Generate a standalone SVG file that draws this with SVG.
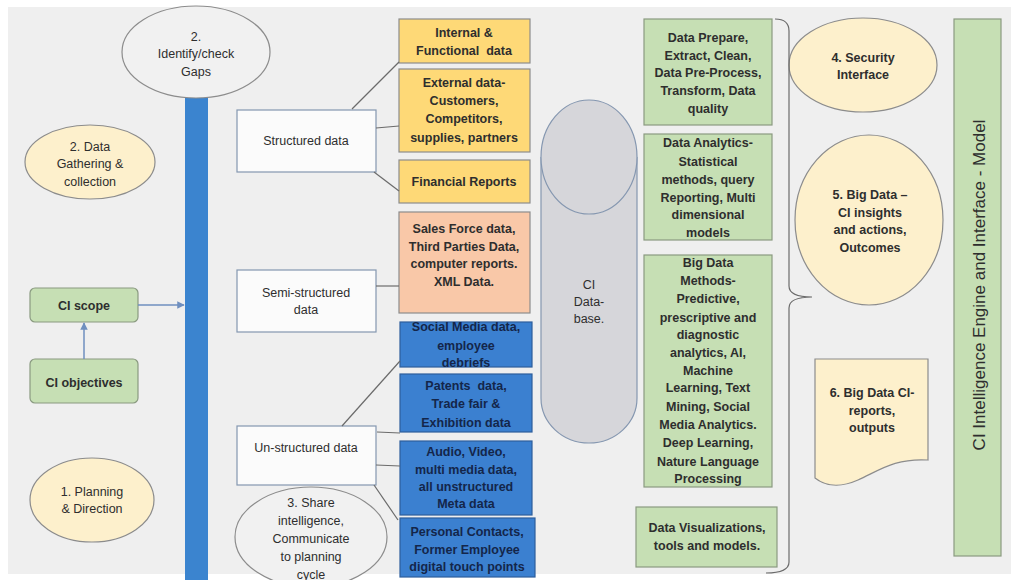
<svg xmlns="http://www.w3.org/2000/svg" width="1021" height="580" viewBox="0 0 1021 580">
<defs>
<style>
text{font-family:"Liberation Sans",Arial,sans-serif;fill:#2e2e2e;text-anchor:middle;white-space:pre}
.b{font-weight:bold;font-size:12.5px}
.n{font-size:12.5px}
.nv{fill:#14264a}
.ell{stroke:#8c8c8c;stroke-width:1.2}
.cream{fill:#fdf0cc}
.plain{fill:#f1f1f1}
.yel{fill:#fed977;stroke:#8c8c8c;stroke-width:1.2}
.peach{fill:#f9c8a8;stroke:#8c8c8c;stroke-width:1.2}
.blue{fill:#3b80d0;stroke:#2d5e9c;stroke-width:1.2}
.grn{fill:#c6dfb4;stroke:#8a9a80;stroke-width:1.2}
.wbox{fill:#fbfbfb;stroke:#8497b0;stroke-width:1.2}
.ln{stroke:#6b6b6b;stroke-width:1.2;fill:none}
.ar{stroke:#6f8fbf;stroke-width:1.5;fill:none}
</style>
<marker id="ah" viewBox="0 0 10 10" refX="9" refY="5" markerWidth="5" markerHeight="5" orient="auto">
<path d="M0,0 L10,5 L0,10 z" fill="#6f8fbf"/>
</marker>
</defs>
<rect x="0" y="0" width="1021" height="580" fill="#ffffff"/>
<rect x="8" y="7" width="1003" height="567" fill="#efefef"/>

<g id="bar">
<rect x="185" y="96" width="23" height="484" fill="#3b84cf"/>
</g>

<g id="identify">
<ellipse class="ell plain" cx="196" cy="52" rx="74" ry="46"/>
<text class="n" x="196" y="41">2.</text>
<text class="n" x="196" y="58">Identify/check</text>
<text class="n" x="196" y="76">Gaps</text>
</g>

<g id="gathering">
<ellipse class="ell cream" cx="90" cy="162" rx="65" ry="37"/>
<text class="n" x="90" y="151">2. Data</text>
<text class="n" x="90" y="168">Gathering &amp;</text>
<text class="n" x="90" y="186">collection</text>
</g>

<g id="ciscope">
<rect class="grn" x="30" y="288" width="108" height="34" rx="5"/>
<text class="b" x="84" y="310">CI scope</text>
</g>

<g id="ciobjectives">
<rect class="grn" x="30" y="359" width="108" height="44" rx="5"/>
<text class="b" x="84" y="387">CI objectives</text>
</g>

<g id="planning">
<ellipse class="ell cream" cx="92" cy="500" rx="62" ry="42"/>
<text class="n" x="92" y="496">1. Planning</text>
<text class="n" x="92" y="513">&amp; Direction</text>
</g>

<g id="structured">
<rect class="wbox" x="237" y="110" width="139" height="62"/>
<text class="n" x="306" y="145">Structured data</text>
</g>

<g id="semistructured">
<rect class="wbox" x="237" y="270" width="139" height="62"/>
<text class="n" x="306" y="297">Semi-structured</text>
<text class="n" x="306" y="314">data</text>
</g>

<g id="unstructured">
<rect class="wbox" x="237" y="426" width="139" height="59"/>
<text class="n" x="306" y="452">Un-structured data</text>
</g>

<g id="share">
<ellipse class="ell plain" cx="311" cy="537" rx="76" ry="50"/>
<text class="n" x="311" y="507">3. Share</text>
<text class="n" x="311" y="525">intelligence,</text>
<text class="n" x="311" y="543">Communicate</text>
<text class="n" x="311" y="561">to planning</text>
<text class="n" x="311" y="579">cycle</text>
</g>

<g id="internal">
<rect class="yel" x="399" y="19" width="131" height="44"/>
<text class="b" x="464" y="37">Internal &amp;</text>
<text class="b" x="464" y="55">Functional  data</text>
</g>

<g id="external">
<rect class="yel" x="399" y="69" width="131" height="83"/>
<text class="b" x="464" y="87">External data-</text>
<text class="b" x="464" y="105">Customers,</text>
<text class="b" x="464" y="123">Competitors,</text>
<text class="b" x="464" y="142">supplies, partners</text>
</g>

<g id="financial">
<rect class="yel" x="399" y="160" width="131" height="43"/>
<text class="b" x="464" y="186">Financial Reports</text>
</g>

<g id="salesforce">
<rect class="peach" x="399" y="212" width="131" height="101"/>
<text class="b" x="464" y="233">Sales Force data,</text>
<text class="b" x="464" y="251">Third Parties Data,</text>
<text class="b" x="464" y="268">computer reports.</text>
<text class="b" x="464" y="286">XML Data.</text>
</g>

<g id="social">
<rect class="blue" x="400" y="322" width="132" height="45"/>
<text class="b nv" x="466" y="331">Social Media data,</text>
<text class="b nv" x="466" y="350">employee</text>
<text class="b nv" x="466" y="367">debriefs</text>
</g>

<g id="patents">
<rect class="blue" x="400" y="374" width="132" height="58"/>
<text class="b nv" x="466" y="390">Patents  data,</text>
<text class="b nv" x="466" y="408">Trade fair &amp;</text>
<text class="b nv" x="466" y="427">Exhibition data</text>
</g>

<g id="audio">
<rect class="blue" x="400" y="441" width="132" height="74"/>
<text class="b nv" x="466" y="456">Audio, Video,</text>
<text class="b nv" x="466" y="474">multi media data,</text>
<text class="b nv" x="466" y="491">all unstructured</text>
<text class="b nv" x="466" y="508">Meta data</text>
</g>

<g id="personal">
<rect class="blue" x="400" y="518" width="135" height="59"/>
<text class="b nv" x="467" y="536">Personal Contacts,</text>
<text class="b nv" x="467" y="554">Former Employee</text>
<text class="b nv" x="467" y="571">digital touch points</text>
</g>

<g id="database">
<path d="M541,157 L541,398 A48,45 0 0 0 637,398 L637,157" fill="#d6d6da" stroke="#8597b0" stroke-width="1.2"/>
<ellipse cx="589" cy="157" rx="48" ry="57" fill="#d6d6da" stroke="#8597b0" stroke-width="1.2"/>
<text class="n" x="589" y="289">CI</text>
<text class="n" x="589" y="306">Data-</text>
<text class="n" x="589" y="323">base.</text>
</g>

<g id="prepare">
<rect class="grn" x="644" y="19" width="128" height="106"/>
<text class="b" x="708" y="42">Data Prepare,</text>
<text class="b" x="708" y="60">Extract, Clean,</text>
<text class="b" x="708" y="77">Data Pre-Process,</text>
<text class="b" x="708" y="95">Transform, Data</text>
<text class="b" x="708" y="113">quality</text>
</g>

<g id="analytics">
<rect class="grn" x="644" y="134" width="128" height="106"/>
<text class="b" x="708" y="147">Data Analytics-</text>
<text class="b" x="708" y="166">Statistical</text>
<text class="b" x="708" y="184">methods, query</text>
<text class="b" x="708" y="202">Reporting, Multi</text>
<text class="b" x="708" y="219">dimensional</text>
<text class="b" x="708" y="237">models</text>
</g>

<g id="bigdata">
<rect class="grn" x="644" y="255" width="128" height="232"/>
<text class="b" x="708" y="267">Big Data</text>
<text class="b" x="708" y="285">Methods-</text>
<text class="b" x="708" y="303">Predictive,</text>
<text class="b" x="708" y="322">prescriptive and</text>
<text class="b" x="708" y="339">diagnostic</text>
<text class="b" x="708" y="357">analytics, AI,</text>
<text class="b" x="708" y="375">Machine</text>
<text class="b" x="708" y="392">Learning, Text</text>
<text class="b" x="708" y="411">Mining, Social</text>
<text class="b" x="708" y="429">Media Analytics.</text>
<text class="b" x="708" y="447">Deep Learning,</text>
<text class="b" x="708" y="466">Nature Language</text>
<text class="b" x="708" y="483">Processing</text>
</g>

<g id="visualizations">
<rect class="grn" x="636" y="507" width="141" height="60"/>
<text class="b" x="707" y="532">Data Visualizations,</text>
<text class="b" x="707" y="550">tools and models.</text>
</g>

<g id="security">
<ellipse class="ell cream" cx="863" cy="65" rx="74" ry="47"/>
<text class="b" x="863" y="62">4. Security</text>
<text class="b" x="863" y="79">Interface</text>
</g>

<g id="insights">
<ellipse class="ell cream" cx="869" cy="220" rx="74" ry="85"/>
<text class="b" x="870" y="199">5. Big Data –</text>
<text class="b" x="870" y="217">CI insights</text>
<text class="b" x="870" y="234">and actions,</text>
<text class="b" x="870" y="252">Outcomes</text>
</g>

<g id="reports">
<path d="M815,359 H928 V460 C895,458 880,470 858,480 C840,488 825,486 815,478 Z" fill="#fdf0cc" stroke="#8c8c8c" stroke-width="1.2"/>
<text class="b" x="872" y="397">6. Big Data CI-</text>
<text class="b" x="872" y="415">reports,</text>
<text class="b" x="872" y="432">outputs</text>
</g>

<g id="engine">
<rect class="grn" x="954" y="19" width="47" height="537"/>
<text x="0" y="0" font-size="17" transform="translate(985,285) rotate(-90)">CI Intelligence Engine and Interface - Model</text>
</g>

<g id="connectors">
<line class="ar" x1="138" y1="305" x2="184" y2="305" marker-end="url(#ah)"/>
<line class="ar" x1="84" y1="359" x2="84" y2="323" marker-end="url(#ah)"/>
<line class="ln" x1="352" y1="109" x2="399" y2="62"/>
<line class="ln" x1="376" y1="128" x2="399" y2="126"/>
<line class="ln" x1="374" y1="172" x2="399" y2="191"/>
<line class="ln" x1="376" y1="286" x2="399" y2="286"/>
<line class="ln" x1="342" y1="426" x2="400" y2="361"/>
<line class="ln" x1="377" y1="432" x2="400" y2="433"/>
<line class="ln" x1="376" y1="465" x2="400" y2="466"/>
<line class="ln" x1="374" y1="485" x2="398" y2="520"/>
<path class="ln" d="M775,19 Q789,19 789,31 L789,286 Q789,297 812,297 Q789,297 789,308 L789,562 Q789,573 766,573" stroke="#7a7a7a" stroke-width="1.4"/>
</g>
</svg>
